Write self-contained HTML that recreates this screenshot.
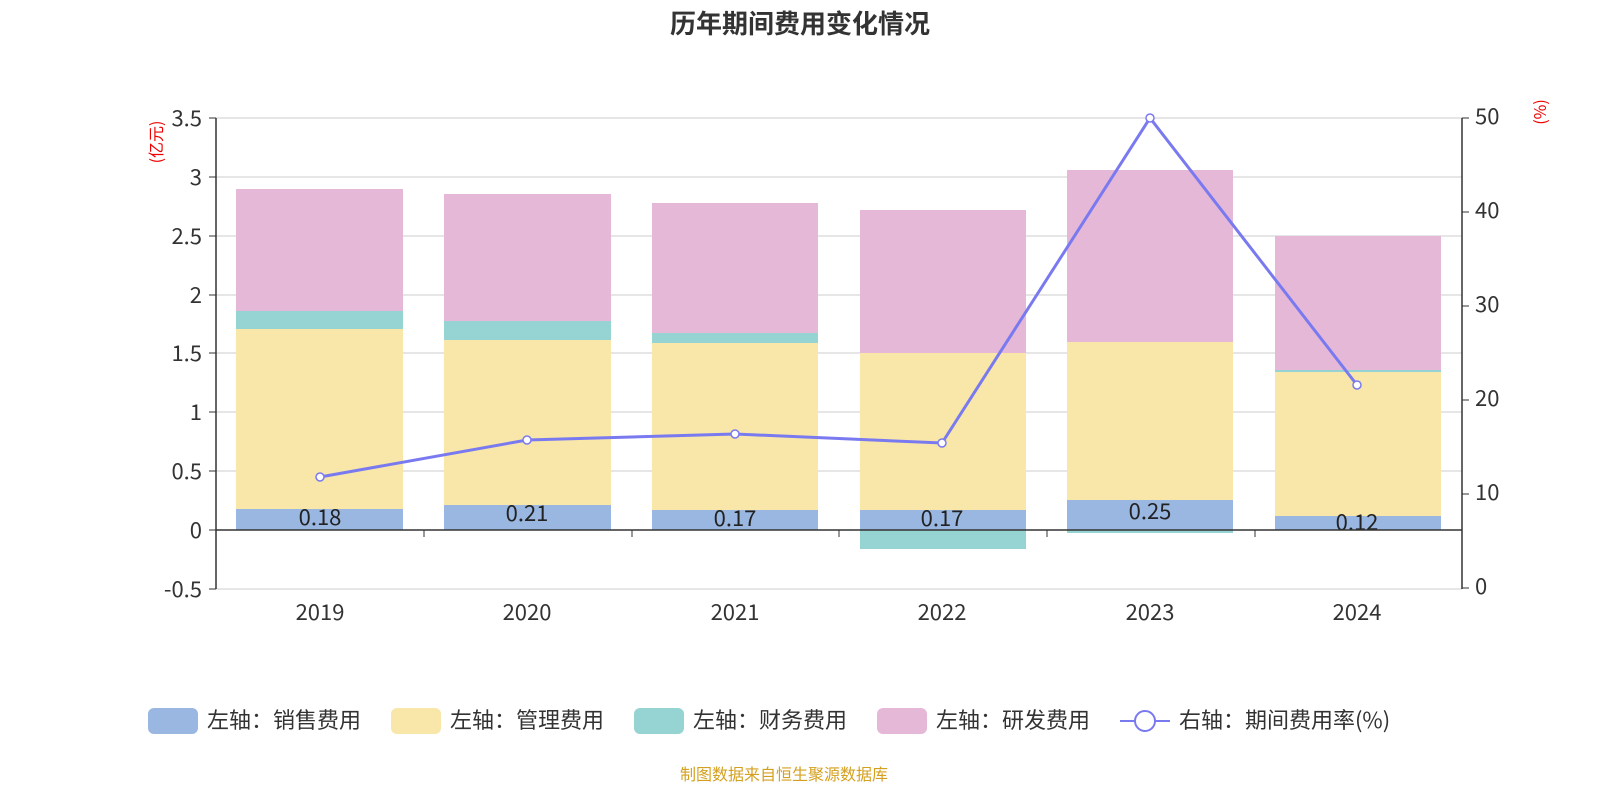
<!DOCTYPE html>
<html><head><meta charset="utf-8"><style>
body{margin:0;background:#fff;}
svg{display:block;font-family:"Noto Sans CJK SC","Liberation Sans",sans-serif;}
</style></head><body>
<svg width="1600" height="800" viewBox="0 0 1600 800">
<text x="800" y="33" text-anchor="middle" font-size="26" font-weight="bold" fill="#333">历年期间费用变化情况</text>
<g stroke="#ccc" stroke-width="1">
<line x1="216" y1="118" x2="1462" y2="118"/>
<line x1="216" y1="177" x2="1462" y2="177"/>
<line x1="216" y1="236" x2="1462" y2="236"/>
<line x1="216" y1="295" x2="1462" y2="295"/>
<line x1="216" y1="353" x2="1462" y2="353"/>
<line x1="216" y1="412" x2="1462" y2="412"/>
<line x1="216" y1="471" x2="1462" y2="471"/>
<line x1="216" y1="589" x2="1462" y2="589"/>
</g>
<g>
<rect x="236" y="189" width="167" height="122" fill="#e6b8d8"/>
<rect x="236" y="311" width="167" height="18" fill="#96d3d3"/>
<rect x="236" y="329" width="167" height="180" fill="#f8e7a9"/>
<rect x="236" y="509" width="167" height="21" fill="#9ab7e1"/>
<rect x="444" y="194" width="167" height="127" fill="#e6b8d8"/>
<rect x="444" y="321" width="167" height="19" fill="#96d3d3"/>
<rect x="444" y="340" width="167" height="165" fill="#f8e7a9"/>
<rect x="444" y="505" width="167" height="25" fill="#9ab7e1"/>
<rect x="652" y="203" width="166" height="130" fill="#e6b8d8"/>
<rect x="652" y="333" width="166" height="10" fill="#96d3d3"/>
<rect x="652" y="343" width="166" height="167" fill="#f8e7a9"/>
<rect x="652" y="510" width="166" height="20" fill="#9ab7e1"/>
<rect x="860" y="210" width="166" height="143" fill="#e6b8d8"/>
<rect x="860" y="353" width="166" height="157" fill="#f8e7a9"/>
<rect x="860" y="510" width="166" height="20" fill="#9ab7e1"/>
<rect x="860" y="530" width="166" height="19" fill="#96d3d3"/>
<rect x="1067" y="170" width="166" height="172" fill="#e6b8d8"/>
<rect x="1067" y="342" width="166" height="158" fill="#f8e7a9"/>
<rect x="1067" y="500" width="166" height="30" fill="#9ab7e1"/>
<rect x="1067" y="530" width="166" height="3" fill="#96d3d3"/>
<rect x="1275" y="236" width="166" height="134" fill="#e6b8d8"/>
<rect x="1275" y="370" width="166" height="2" fill="#96d3d3"/>
<rect x="1275" y="372" width="166" height="144" fill="#f8e7a9"/>
<rect x="1275" y="516" width="166" height="14" fill="#9ab7e1"/>
</g>
<g font-size="22" fill="#222" text-anchor="middle">
<text x="320" y="525">0.18</text><text x="527" y="521">0.21</text><text x="735" y="526">0.17</text>
<text x="942" y="526">0.17</text><text x="1150" y="519">0.25</text><text x="1357" y="530">0.12</text>
</g>
<g stroke="#333" stroke-width="1.5">
<line x1="216" y1="118" x2="216" y2="589"/>
<line x1="1462" y1="118" x2="1462" y2="589"/>
<line x1="216" y1="530" x2="1462" y2="530"/>
</g>
<g stroke="#333" stroke-width="1">
<line x1="424" y1="530" x2="424" y2="537"/><line x1="632" y1="530" x2="632" y2="537"/>
<line x1="839" y1="530" x2="839" y2="537"/><line x1="1047" y1="530" x2="1047" y2="537"/>
<line x1="1255" y1="530" x2="1255" y2="537"/>
<line x1="209" y1="118" x2="216" y2="118"/><line x1="209" y1="177" x2="216" y2="177"/>
<line x1="209" y1="236" x2="216" y2="236"/><line x1="209" y1="295" x2="216" y2="295"/>
<line x1="209" y1="353" x2="216" y2="353"/><line x1="209" y1="412" x2="216" y2="412"/>
<line x1="209" y1="471" x2="216" y2="471"/><line x1="209" y1="530" x2="216" y2="530"/>
<line x1="209" y1="589" x2="216" y2="589"/>
<line x1="1462" y1="118" x2="1469" y2="118"/><line x1="1462" y1="212" x2="1469" y2="212"/>
<line x1="1462" y1="306" x2="1469" y2="306"/><line x1="1462" y1="400" x2="1469" y2="400"/>
<line x1="1462" y1="494" x2="1469" y2="494"/><line x1="1462" y1="588" x2="1469" y2="588"/>
</g>
<g font-size="22" fill="#333" text-anchor="end">
<text x="202" y="126">3.5</text><text x="202" y="185">3</text><text x="202" y="244">2.5</text>
<text x="202" y="303">2</text><text x="202" y="361">1.5</text><text x="202" y="420">1</text>
<text x="202" y="479">0.5</text><text x="202" y="538">0</text><text x="202" y="597">-0.5</text>
</g>
<g font-size="22" fill="#333">
<text x="1475" y="124">50</text><text x="1475" y="218">40</text><text x="1475" y="312">30</text>
<text x="1475" y="406">20</text><text x="1475" y="500">10</text><text x="1475" y="594">0</text>
</g>
<g font-size="22" fill="#333" text-anchor="middle">
<text x="320" y="620">2019</text><text x="527" y="620">2020</text><text x="735" y="620">2021</text>
<text x="942" y="620">2022</text><text x="1150" y="620">2023</text><text x="1357" y="620">2024</text>
</g>
<text transform="translate(162,142) rotate(-90)" font-size="16" fill="#e00" text-anchor="middle">(亿元)</text>
<text transform="translate(1546,112) rotate(-90)" font-size="16" fill="#e00" text-anchor="middle">(%)</text>
<polyline points="320,477 527,440 735,434 942,443 1150,118 1357,385" fill="none" stroke="#7a7af0" stroke-width="3"/>
<g fill="#fff" stroke="#7a7af0" stroke-width="1.5">
<circle cx="320" cy="477" r="4"/><circle cx="527" cy="440" r="4"/><circle cx="735" cy="434" r="4"/>
<circle cx="942" cy="443" r="4"/><circle cx="1150" cy="118" r="4"/><circle cx="1357" cy="385" r="4"/>
</g>
<g font-size="22" fill="#333">
<rect x="148" y="708" width="50" height="26" rx="6" fill="#9ab7e1"/><text x="207" y="728">左轴：销售费用</text>
<rect x="391" y="708" width="50" height="26" rx="6" fill="#f8e7a9"/><text x="450" y="728">左轴：管理费用</text>
<rect x="634" y="708" width="50" height="26" rx="6" fill="#96d3d3"/><text x="693" y="728">左轴：财务费用</text>
<rect x="877" y="708" width="50" height="26" rx="6" fill="#e6b8d8"/><text x="936" y="728">左轴：研发费用</text>
<line x1="1120" y1="721" x2="1170" y2="721" stroke="#7a7af0" stroke-width="2"/>
<circle cx="1145" cy="721" r="10" fill="#fff" stroke="#7a7af0" stroke-width="2"/>
<text x="1179" y="728">右轴：期间费用率(%)</text>
</g>
<text x="784" y="780" font-size="16" fill="#d4a020" text-anchor="middle">制图数据来自恒生聚源数据库</text>
</svg>
</body></html>
